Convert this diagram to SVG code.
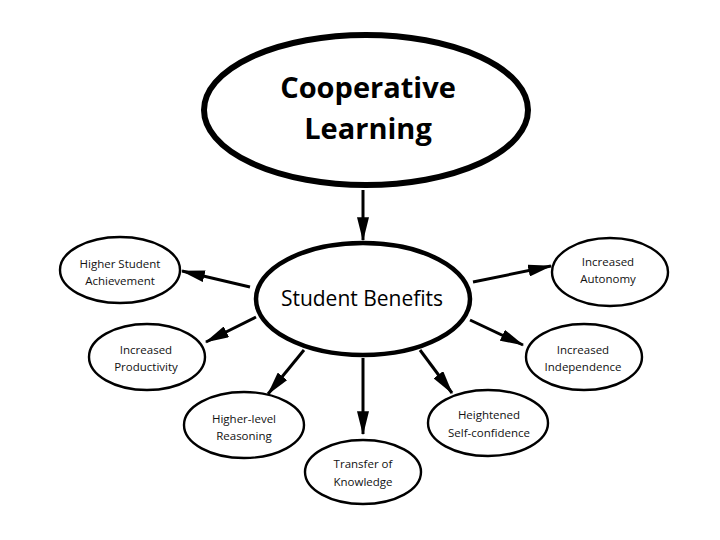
<svg xmlns="http://www.w3.org/2000/svg" width="720" height="540" viewBox="0 0 720 540">
<style>
.node ellipse{fill:#fff;stroke:#000}
.small ellipse{stroke-width:2.4}
.small text{font-family:"Open Sans","Noto Sans","Liberation Sans",sans-serif;font-size:11.5px;fill:#111;text-anchor:middle}
.conn line{stroke:#000;stroke-width:3}
</style>
<defs>
<marker id="ah" viewBox="0 0 20 10" refX="19" refY="5" markerWidth="8" markerHeight="4" orient="auto" markerUnits="strokeWidth">
<path d="M0,0 L20,5 L0,10 Z" fill="#000"/>
</marker>
</defs>
<rect width="720" height="540" fill="#fff"/>
<g id="connectors" class="conn">
<line x1="363" y1="190" x2="363" y2="240" marker-end="url(#ah)"/>
<line x1="250" y1="287" x2="182" y2="271" marker-end="url(#ah)"/>
<line x1="256" y1="317" x2="206" y2="342" marker-end="url(#ah)"/>
<line x1="304" y1="350" x2="268" y2="394" marker-end="url(#ah)"/>
<line x1="363" y1="358" x2="363" y2="434" marker-end="url(#ah)"/>
<line x1="420" y1="350" x2="452" y2="393" marker-end="url(#ah)"/>
<line x1="470" y1="320" x2="523" y2="345" marker-end="url(#ah)"/>
<line x1="473" y1="282" x2="551" y2="266" marker-end="url(#ah)"/>
</g>
<g id="cooperative-learning" class="node">
<ellipse cx="366" cy="110" rx="162" ry="75" stroke-width="6"/>
<text x="368" y="98" font-family="'Open Sans','Noto Sans','Liberation Sans',sans-serif" font-weight="bold" font-size="29" text-anchor="middle" fill="#000">Cooperative</text>
<text x="368" y="139" font-family="'Open Sans','Noto Sans','Liberation Sans',sans-serif" font-weight="bold" font-size="29" text-anchor="middle" fill="#000">Learning</text>
</g>
<g id="student-benefits" class="node">
<ellipse cx="363" cy="299" rx="107" ry="56" stroke-width="4.5"/>
<text x="362" y="306" font-family="'Open Sans','Noto Sans','Liberation Sans',sans-serif" font-size="21" text-anchor="middle" fill="#000">Student Benefits</text>
</g>
<g id="higher-student-achievement" class="node small">
<ellipse cx="120" cy="270" rx="60" ry="33"/>
<text x="120" y="268">Higher Student</text>
<text x="120" y="285">Achievement</text>
</g>
<g id="increased-productivity" class="node small">
<ellipse cx="147" cy="357" rx="58" ry="33"/>
<text x="146" y="354">Increased</text>
<text x="146" y="371">Productivity</text>
</g>
<g id="higher-level-reasoning" class="node small">
<ellipse cx="244" cy="425" rx="60" ry="33"/>
<text x="244" y="423">Higher-level</text>
<text x="244" y="440">Reasoning</text>
</g>
<g id="transfer-of-knowledge" class="node small">
<ellipse cx="363" cy="472" rx="58" ry="32"/>
<text x="363" y="468">Transfer of</text>
<text x="363" y="486">Knowledge</text>
</g>
<g id="heightened-self-confidence" class="node small">
<ellipse cx="488" cy="423" rx="60" ry="33"/>
<text x="489" y="419">Heightened</text>
<text x="489" y="437">Self-confidence</text>
</g>
<g id="increased-independence" class="node small">
<ellipse cx="584" cy="357" rx="58" ry="33"/>
<text x="583" y="354">Increased</text>
<text x="583" y="371">Independence</text>
</g>
<g id="increased-autonomy" class="node small">
<ellipse cx="610" cy="272" rx="58" ry="34"/>
<text x="608" y="266">Increased</text>
<text x="608" y="283">Autonomy</text>
</g>
</svg>
